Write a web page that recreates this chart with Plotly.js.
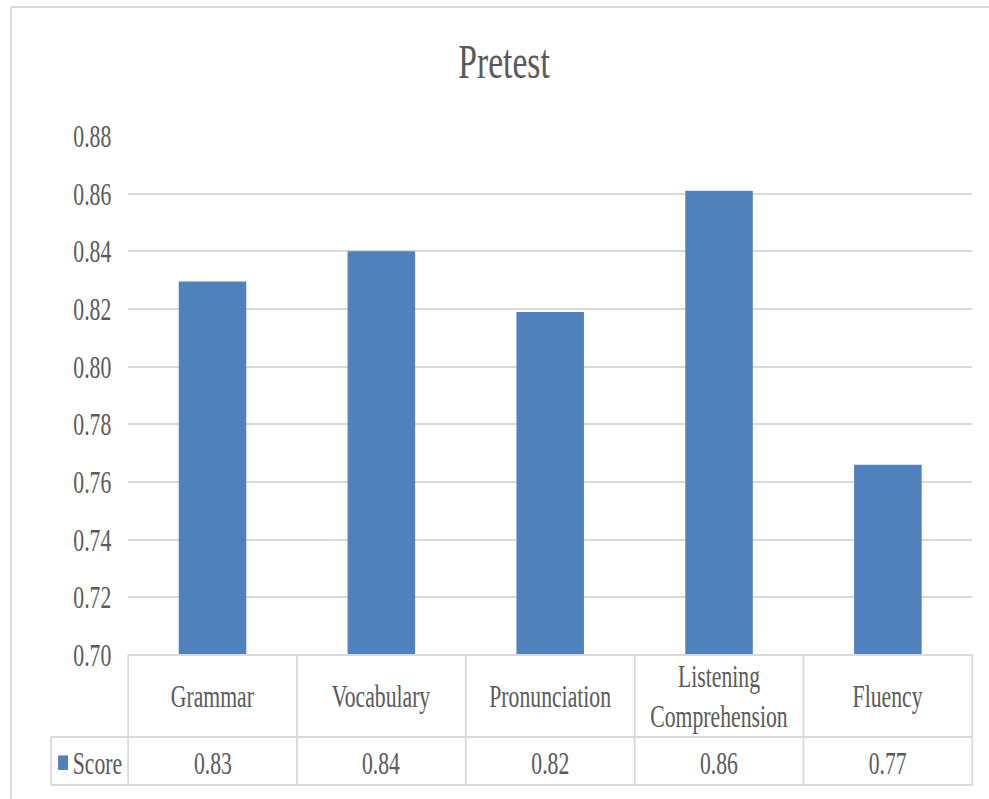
<!DOCTYPE html>
<html>
<head>
<meta charset="utf-8">
<script src="https://cdn.plot.ly/plotly-3.0.1.min.js"></script>
<style>
  html, body { margin: 0; padding: 0; background: #ffffff; overflow: hidden; width: 989px; height: 799px; }
  #chart { width: 1413px; height: 799px; transform: scaleX(0.7); transform-origin: 0 0; }
</style>
</head>
<body>
<div id="chart"></div>
<script>
// ---- data ----
const chartTitle = 'Pretest';
const seriesName = 'Score';
const categories = ['Grammar', 'Vocabulary', 'Pronunciation', 'Listening Comprehension', 'Fluency'];
const scores = [0.8295, 0.840, 0.819, 0.861, 0.766];
const yTickVals = [0.70, 0.72, 0.74, 0.76, 0.78, 0.80, 0.82, 0.84, 0.86, 0.88];
const yTickText = ['0.70', '0.72', '0.74', '0.76', '0.78', '0.80', '0.82', '0.84', '0.86', '0.88'];

// ---- styling ----
const FONT = '"Liberation Serif", "Times New Roman", serif';
const TXT = '#595959';
const LINE = '#d9d9d9';
const barColor = '#4f81bd';

// table geometry (paper coordinates)
const tableLeft = -0.0912;
const headerMid = -0.079;
const rowTop = -0.158;
const rowMid = -0.2081;
const rowBottom = -0.2505;

const shapes = [];
const n = categories.length;
for (let i = 0; i <= n; i++) {
  shapes.push({type: 'line', xref: 'paper', yref: 'paper', x0: i / n, x1: i / n, y0: 0, y1: rowBottom,
               line: {color: LINE, width: 2.5}});
}
shapes.push({type: 'line', xref: 'paper', yref: 'paper', x0: tableLeft, x1: tableLeft, y0: rowTop, y1: rowBottom, line: {color: LINE, width: 2.5}});
shapes.push({type: 'line', xref: 'paper', yref: 'paper', x0: tableLeft, x1: 1, y0: rowTop, y1: rowTop, line: {color: LINE, width: 2}});
shapes.push({type: 'line', xref: 'paper', yref: 'paper', x0: tableLeft, x1: 1, y0: rowBottom, y1: rowBottom, line: {color: LINE, width: 2}});
shapes.push({type: 'line', xref: 'paper', yref: 'paper', x0: 0, x1: 1, y0: 0, y1: 0, line: {color: LINE, width: 2}});
// outer frame (top and left)
shapes.push({type: 'line', xref: 'paper', yref: 'paper', x0: -0.1387, x1: 1.03, y0: 1.2486, y1: 1.2486, line: {color: LINE, width: 2}});
shapes.push({type: 'line', xref: 'paper', yref: 'paper', x0: -0.1387, x1: -0.1387, y0: 1.2486, y1: -0.29, line: {color: LINE, width: 2.5}});
// legend key in the data table
shapes.push({type: 'rect', xref: 'paper', yref: 'paper', x0: -0.0829, x1: -0.0712, y0: -0.1935, y1: -0.2215,
             line: {width: 0}, fillcolor: barColor});

const annotations = [];
categories.forEach((c, i) => {
  annotations.push({x: c, xref: 'x', y: headerMid, yref: 'paper', text: c.replace(' ', '<br>'),
    showarrow: false, xanchor: 'center', yanchor: 'middle', align: 'center',
    font: {family: FONT, size: 31, color: TXT}});
  annotations.push({x: c, xref: 'x', y: rowMid, yref: 'paper', text: scores[i].toFixed(2),
    showarrow: false, xanchor: 'center', yanchor: 'middle',
    font: {family: FONT, size: 31, color: TXT}});
});
annotations.push({x: -0.0672, xref: 'paper', y: rowMid, yref: 'paper', text: seriesName,
  showarrow: false, xanchor: 'left', yanchor: 'middle',
  font: {family: FONT, size: 31, color: TXT}});

const trace = {
  type: 'bar',
  name: seriesName,
  x: categories,
  y: scores,
  marker: {color: barColor},
  showlegend: false,
  hoverinfo: 'none'
};

const layout = {
  width: 1413,
  height: 799,
  paper_bgcolor: '#ffffff',
  plot_bgcolor: '#ffffff',
  margin: {l: 183, r: 24, t: 136, b: 144, autoexpand: false},
  title: {
    text: chartTitle,
    font: {family: FONT, size: 48, color: TXT},
    xref: 'container', x: 0.5096, xanchor: 'center',
    yref: 'container', y: 0.923, yanchor: 'middle'
  },
  bargap: 0.6,
  xaxis: {
    type: 'category',
    range: [-0.5, n - 0.5],
    showticklabels: false,
    showgrid: false,
    zeroline: false,
    showline: false,
    ticks: ''
  },
  yaxis: {
    range: [0.70, 0.88],
    tickmode: 'array',
    tickvals: yTickVals,
    ticktext: yTickText,
    showgrid: true,
    gridcolor: LINE,
    gridwidth: 2,
    zeroline: false,
    showline: false,
    ticks: '',
    ticklabelstandoff: 23,
    tickfont: {family: FONT, size: 31, color: TXT}
  },
  showlegend: false,
  shapes: shapes,
  annotations: annotations
};

Plotly.newPlot('chart', [trace], layout, {displayModeBar: false, staticPlot: true});
</script>
</body>
</html>
